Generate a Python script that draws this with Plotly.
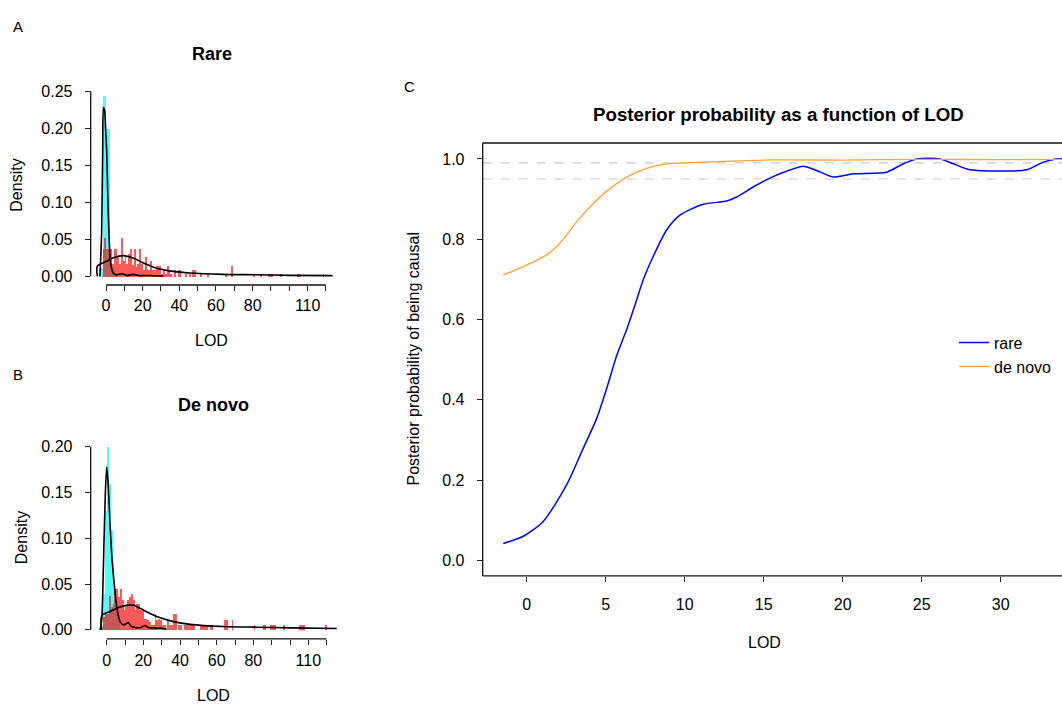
import plotly.graph_objects as go

W, H = 1062, 706

# ---------------- Data ----------------
# Panel A (Rare): histogram bins (left edge, density)
rare_null_left = [-4, -2, 0, 2, 4]
rare_null_dens = [0.012, 0.244, 0.200, 0.013, 0.003]
rare_null_width = 2

rare_obs_left = [-2, -1, 0, 1, 2, 3, 4, 5, 6, 7, 8, 9, 10, 11, 12, 13, 14, 15, 16, 17, 18, 19,
                 20, 21, 22, 23, 24, 25, 26, 27, 28, 29, 30, 31, 32, 33, 34, 35, 37, 39, 40,
                 43, 45, 47, 48, 51, 55, 65, 68, 80, 84, 88, 89, 90, 95, 104, 105, 118]
rare_obs_dens = [0.038, 0.053, 0.038, 0.038, 0.038, 0.018, 0.038, 0.038, 0.027, 0.018, 0.053,
                 0.022, 0.027, 0.018, 0.031, 0.038, 0.016, 0.038, 0.013, 0.018, 0.038, 0.018,
                 0.009, 0.027, 0.011, 0.009, 0.022, 0.009, 0.009, 0.014, 0.014, 0.014, 0.004,
                 0.009, 0.004, 0.014, 0.009, 0.004, 0.009, 0.009, 0.009, 0.004, 0.004, 0.009,
                 0.009, 0.004, 0.004, 0.004, 0.014, 0.004, 0.004, 0.004, 0.004, 0.004, 0.004,
                 0.004, 0.004, 0.004]
rare_obs_width = 1

rare_null_kde_x = [-3.3, -2.4, -1.8, -1.45, -0.7, -0.2, 0.36, 0.9, 1.6, 2.5, 4.0, 5.8, 8.5,
                   11.3, 14.9, 18.5, 24.0, 31.3]
rare_null_kde_y = [0.0, 0.058, 0.17, 0.228, 0.223, 0.197, 0.17, 0.116, 0.058, 0.018, 0.0045,
                   0.002, 0.0036, 0.0013, 0.0027, 0.001, 0.0012, 0.0004]
rare_obs_kde_x = [-4.7, -4.7, 0.0, 4.0, 9.5, 14.9, 20.4, 27.6, 36.7, 45.8, 64.0, 82.0, 100.0, 123.6]
rare_obs_kde_y = [0.0, 0.014, 0.02, 0.025, 0.028, 0.0246, 0.018, 0.011, 0.0067, 0.0045, 0.0027,
                  0.0022, 0.0013, 0.0009]

# Panel B (De novo)
dn_null_left = [-3, -2, -1, 0, 1, 2, 3, 4, 5, 6]
dn_null_dens = [0.005, 0.04, 0.13, 0.20, 0.16, 0.11, 0.075, 0.045, 0.02, 0.01]
dn_null_width = 1

dn_obs_left = [-2, -1, 0, 1, 2, 3, 4, 5, 6, 7, 8, 9, 10, 11, 12, 13, 14, 15, 16, 17, 18, 19,
               20, 21, 22, 23, 24, 25, 26, 27, 28, 29, 30, 31, 33, 34, 35, 36, 37, 39, 40, 42,
               43, 44, 45, 46, 47, 51, 52, 53, 54, 56, 57, 64, 65, 68, 80, 85, 86, 89, 90, 91,
               96, 105, 106, 107, 119]
dn_obs_dens = [0.0145, 0.018, 0.018, 0.038, 0.025, 0.029, 0.045, 0.045, 0.036, 0.045, 0.033,
               0.022, 0.025, 0.033, 0.036, 0.040, 0.033, 0.022, 0.029, 0.029, 0.022, 0.022,
               0.0127, 0.0127, 0.011, 0.009, 0.0054, 0.0054, 0.0174, 0.011, 0.0127, 0.011,
               0.0054, 0.0054, 0.011, 0.0054, 0.0054, 0.0174, 0.0174, 0.0054, 0.0054, 0.0054,
               0.0054, 0.0054, 0.0054, 0.0054, 0.0054, 0.0054, 0.0054, 0.0054, 0.0054, 0.0054,
               0.0054, 0.0116, 0.0116, 0.0116, 0.0054, 0.0054, 0.0054, 0.0054, 0.0054, 0.0054,
               0.0054, 0.0054, 0.0054, 0.0054, 0.0054]
dn_obs_width = 1

dn_null_kde_x = [-3.6, -2.7, -1.45, -0.7, 0.0, 0.7, 1.8, 2.7, 3.6, 5.5, 7.3, 9.1, 10.5, 11.8,
                 13.1, 15.5, 19.1, 20.9, 22.7, 27.3, 30.0, 32.7]
dn_null_kde_y = [0.0, 0.011, 0.098, 0.152, 0.178, 0.163, 0.116, 0.083, 0.061, 0.025, 0.009,
                 0.0054, 0.0065, 0.008, 0.0043, 0.0025, 0.0029, 0.0047, 0.0025, 0.0018, 0.0018,
                 0.0007]
dn_obs_kde_x = [-2.7, -2.7, 1.8, 7.3, 11.8, 14.5, 18.2, 27.3, 36.4, 45.5, 63.6, 81.8, 100.0, 125.5]
dn_obs_kde_y = [0.0, 0.0156, 0.02, 0.025, 0.027, 0.027, 0.0235, 0.0145, 0.009, 0.006, 0.0036,
                0.0029, 0.0022, 0.0014]

hist_tickvals = [0, 10, 20, 30, 40, 50, 60, 70, 80, 90, 100, 110, 120]
hist_ticktext = ["0", "", "20", "", "40", "", "60", "", "80", "", "", "110", ""]

# Panel C: posterior probability vs LOD
lod_rare = [-1.48, -0.21, 1.05, 2.53, 3.58, 4.43, 5.06, 5.70, 6.33, 6.90, 7.38, 8.01, 8.86,
            9.70, 11.18, 12.66, 13.29, 14.34, 15.40, 16.03, 17.5, 18.35, 19.41, 20.67, 22.78,
            23.84, 24.68, 26.16, 27.0, 28.06, 31.65, 32.7, 33.5, 34.2]
p_rare = [0.042, 0.060, 0.097, 0.188, 0.279, 0.353, 0.427, 0.510, 0.575, 0.641, 0.699, 0.757,
          0.823, 0.860, 0.887, 0.895, 0.905, 0.930, 0.952, 0.963, 0.982, 0.971, 0.955, 0.963,
          0.967, 0.988, 1.0, 1.0, 0.988, 0.973, 0.973, 0.992, 1.0, 1.0]
lod_denovo = [-1.48, -0.42, 1.27, 2.11, 3.16, 4.22, 5.27, 6.54, 7.8, 9.07, 11.18, 15.4, 20.0,
              25.0, 30.0, 34.2]
p_denovo = [0.711, 0.728, 0.761, 0.790, 0.843, 0.889, 0.926, 0.959, 0.979, 0.988, 0.992, 0.9975,
            0.997, 0.999, 0.998, 0.999]
thresholds = [0.99, 0.95]

# ---------------- Styling helpers ----------------
FONT = "Liberation Sans, Arial, Helvetica, sans-serif"
CYAN = "rgba(0,255,255,0.68)"
RED = "rgba(255,0,0,0.65)"
FS = 16


def fx(px):
    return px / W


def fy(py):
    return 1 - py / H


fig = go.Figure()


def add_hist_panel(xa, ya, null_left, null_dens, null_w, obs_left, obs_dens, obs_w,
                   nkx, nky, okx, oky):
    fig.add_trace(go.Bar(x=[l + null_w / 2 for l in null_left], y=null_dens,
                         width=[null_w] * len(null_left), marker=dict(color=CYAN, line_width=0),
                         xaxis=xa, yaxis=ya, showlegend=False, hoverinfo="skip"))
    fig.add_trace(go.Bar(x=[l + obs_w / 2 for l in obs_left], y=obs_dens,
                         width=[obs_w] * len(obs_left), marker=dict(color=RED, line_width=0),
                         xaxis=xa, yaxis=ya, showlegend=False, hoverinfo="skip"))
    fig.add_trace(go.Scatter(x=nkx, y=nky, mode="lines", line=dict(color="black", width=1.6,
                             shape="spline", smoothing=0.6), xaxis=xa, yaxis=ya,
                             showlegend=False, hoverinfo="skip"))
    fig.add_trace(go.Scatter(x=okx, y=oky, mode="lines", line=dict(color="black", width=1.6,
                             shape="spline", smoothing=0.8), xaxis=xa, yaxis=ya,
                             showlegend=False, hoverinfo="skip"))


add_hist_panel("x", "y", rare_null_left, rare_null_dens, rare_null_width,
               rare_obs_left, rare_obs_dens, rare_obs_width,
               rare_null_kde_x, rare_null_kde_y, rare_obs_kde_x, rare_obs_kde_y)
add_hist_panel("x2", "y2", dn_null_left, dn_null_dens, dn_null_width,
               dn_obs_left, dn_obs_dens, dn_obs_width,
               dn_null_kde_x, dn_null_kde_y, dn_obs_kde_x, dn_obs_kde_y)

fig.add_trace(go.Scatter(x=lod_rare, y=p_rare, mode="lines", name="rare",
                         line=dict(color="#0000FF", width=1.5, shape="spline", smoothing=0.7),
                         xaxis="x3", yaxis="y3"))
fig.add_trace(go.Scatter(x=lod_denovo, y=p_denovo, mode="lines", name="de novo",
                         line=dict(color="#FFA53A", width=1.3, shape="spline", smoothing=0.7),
                         xaxis="x3", yaxis="y3"))

tickfont = dict(family=FONT, size=FS, color="black")
common_ax = dict(showgrid=False, zeroline=False, showline=False, ticks="outside", ticklen=5,
                 tickwidth=1.2, tickcolor="#222", tickfont=tickfont, fixedrange=True)

fig.update_layout(
    xaxis=dict(**common_ax, domain=[fx(90.7), fx(340.0)], range=[-8.35, (340.0 - 106.0) / 1.833],
               anchor="y", tickvals=hist_tickvals, ticktext=hist_ticktext, ticklabelstandoff=1),
    yaxis=dict(**common_ax, domain=[fy(282), fy(83.1)], range=[-0.0117, 0.255], anchor="x",
               tickvals=[0, 0.05, 0.10, 0.15, 0.20, 0.25], tickformat=".2f", ticklabelstandoff=9),
    xaxis2=dict(**common_ax, domain=[fx(90.7), fx(340.0)],
                range=[(90.7 - 106.7) / 1.833, (340 - 106.7) / 1.833],
                anchor="y2", tickvals=hist_tickvals, ticktext=hist_ticktext, ticklabelstandoff=2),
    yaxis2=dict(**common_ax, domain=[fy(638.3), fy(437.6)], range=[-0.00977, 0.208], anchor="x2",
                tickvals=[0, 0.05, 0.10, 0.15, 0.20], tickformat=".2f", ticklabelstandoff=9),
    xaxis3=dict(**common_ax, domain=[fx(482.7), 1.0], range=[-2.78, (1062 - 526.7) / 15.8],
                anchor="y3", tickvals=[0, 5, 10, 15, 20, 25, 30], ticklabelstandoff=9),
    yaxis3=dict(**common_ax, domain=[fy(575), fy(139)], range=[-0.0388, 1.0396], anchor="x3",
                tickvals=[0, 0.2, 0.4, 0.6, 0.8, 1.0], tickformat=".1f", ticklabelstandoff=9),
)

shapes = []
axis_line = dict(color="#111", width=1.3)
for xr, yr, ytop in [("x", "y", 0.25), ("x2", "y2", 0.20)]:
    shapes.append(dict(type="line", xref=xr, yref=f"{yr} domain", x0=0, x1=120, y0=0, y1=0,
                       line=axis_line))
    shapes.append(dict(type="line", xref=f"{xr} domain", yref=yr, x0=0, x1=0, y0=0, y1=ytop,
                       line=axis_line))
shapes.append(dict(type="line", xref="x3 domain", yref="y3 domain", x0=0, x1=1, y0=0, y1=0,
                   line=axis_line))
shapes.append(dict(type="line", xref="x3 domain", yref="y3 domain", x0=0, x1=1, y0=1, y1=1,
                   line=axis_line))
shapes.append(dict(type="line", xref="x3 domain", yref="y3 domain", x0=0, x1=0, y0=0, y1=1,
                   line=axis_line))
for t in thresholds:
    shapes.append(dict(type="line", xref="x3 domain", yref="y3", x0=0, x1=1, y0=t, y1=t,
                       line=dict(color="#C8C8C8", width=1.2, dash="dash"), layer="below"))

annotations = []


def txt(text, px, py, size=FS, bold=False, angle=0, xanchor="center"):
    annotations.append(dict(text=f"<b>{text}</b>" if bold else text, x=fx(px), y=fy(py),
                            xref="paper", yref="paper", showarrow=False, textangle=angle,
                            xanchor=xanchor, yanchor="middle",
                            font=dict(family=FONT, size=size, color="black")))


txt("A", 18, 22, size=15)
txt("Rare", 212, 49, size=18, bold=True)
txt("Density", 17, 182, angle=-90)
txt("LOD", 211, 338)
txt("B", 18, 372, size=15)
txt("De novo", 213, 403, size=18, bold=True)
txt("Density", 21, 537, angle=-90)
txt("LOD", 213, 695)
txt("C", 409, 82, size=15)
txt("Posterior probability as a function of LOD", 778, 110, size=18.7, bold=True)
txt("Posterior probability of being causal", 413, 357, angle=-90)
txt("LOD", 764, 642)

fig.update_layout(
    width=W, height=H, autosize=False,
    margin=dict(l=0, r=0, t=0, b=0),
    paper_bgcolor="white", plot_bgcolor="white",
    barmode="overlay", bargap=0,
    shapes=shapes, annotations=annotations,
    legend=dict(x=fx(954), y=fy(323), xanchor="left", yanchor="top", bgcolor="rgba(0,0,0,0)",
                font=dict(family=FONT, size=FS, color="black"), itemwidth=30,
                tracegroupgap=0),
    font=dict(family=FONT, color="black"),
)

fig.write_html("out.html")
